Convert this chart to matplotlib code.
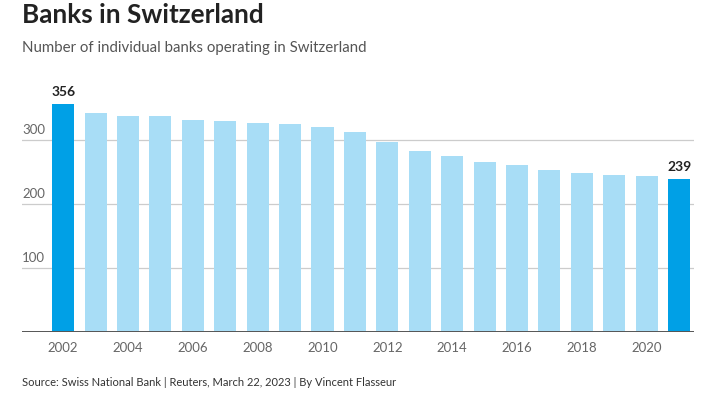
import matplotlib.pyplot as plt

plt.rcParams['font.family'] = ['Lato', 'DejaVu Sans']

# Number of banks per year
years = list(range(2002, 2022))
banks = [356, 342, 337, 337, 331, 330, 327, 325, 320, 312,
         297, 283, 275, 266, 261, 253, 248, 246, 243, 239]
y_ticks = [100, 200, 300]
x_ticks = [2002, 2004, 2006, 2008, 2010, 2012, 2014, 2016, 2018, 2020]

dark = '#00a0e6'
light = '#a8ddf6'
colors = [dark if y in (years[0], years[-1]) else light for y in years]

fig = plt.figure(figsize=(7.1, 3.97), dpi=100)
ax = fig.add_axes([22 / 710, 1 - 332 / 397, 672 / 710, 256 / 397])

ax.bar(years, banks, width=0.68, color=colors, zorder=2)
ax.set_xlim(2000.73, 2021.46)
ax.set_ylim(0, 400)

# gridlines and y labels sitting above them
for t in y_ticks:
    ax.axhline(t, color='#cccccc', lw=0.9, zorder=1)
    ax.text(2000.73, t + 6, str(t), color='#666666', fontsize=9.5,
            ha='left', va='bottom')
ax.axhline(0, color='#555555', lw=1.4, zorder=3)

# end labels
for i in (0, len(years) - 1):
    ax.text(years[i], banks[i] + 10, str(banks[i]), ha='center', va='bottom',
            fontsize=10, fontweight='bold', color='#222222')

ax.set_yticks([])
ax.set_xticks(x_ticks)
ax.set_xticklabels([str(x) for x in x_ticks], color='#666666', fontsize=9.5)
ax.tick_params(axis='x', length=0, pad=7)
for s in ax.spines.values():
    s.set_visible(False)

fig.text(22 / 710, 1 - 15 / 397, 'Banks in Switzerland', fontsize=18.8,
         fontweight='bold', color='#222222', va='center')
fig.text(22 / 710, 1 - 48 / 397, 'Number of individual banks operating in Switzerland',
         fontsize=10.8, color='#555555', va='center')
fig.text(22 / 710, 1 - 383 / 397,
         'Source: Swiss National Bank | Reuters, March 22, 2023 | By Vincent Flasseur',
         fontsize=8, color='#333333', va='center')

fig.savefig('out.png', dpi=100)
